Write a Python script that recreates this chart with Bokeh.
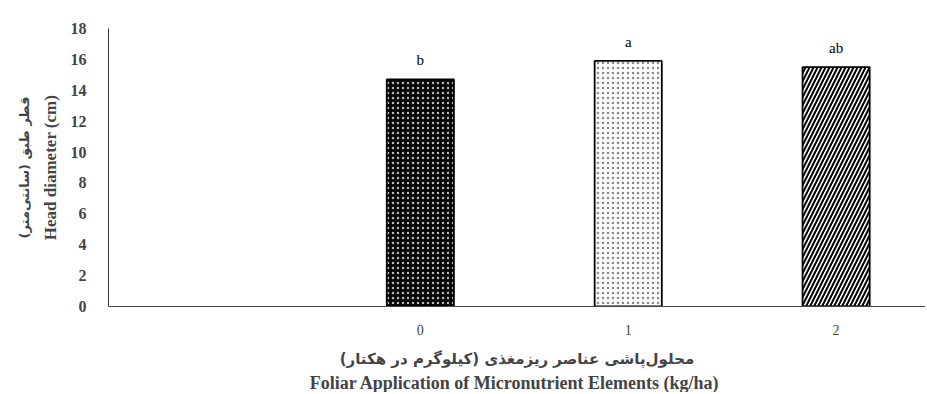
from bokeh.plotting import figure
from bokeh.models import ColumnDataSource, FixedTicker, Range1d, Title
from bokeh.core.properties import value
from bokeh.embed import file_html
from bokeh.resources import INLINE

# data
categories = ["0", "1", "2"]
values = [14.7, 15.9, 15.5]
letters = ["b", "a", "ab"]
fill_colors = ["black", "white", "white"]
hatch_patterns = ["dot", "dot", "right_diagonal_line"]
hatch_colors = ["#bbbbbb", "#888888", "black"]
hatch_scales = [5, 5, 8]
hatch_weights = [1, 1, 2]
y_ticks = list(range(0, 19, 2))

x_pos = [i + 1 for i in range(len(categories))]

SERIF = "'Liberation Serif', 'Times New Roman', serif"

src = ColumnDataSource(dict(x=x_pos, top=values, lab=letters, fill=fill_colors,
                            hp=hatch_patterns, hc=hatch_colors, hs=hatch_scales, hw=hatch_weights))

p = figure(width=925, height=392, output_backend="svg", toolbar_location=None,
           x_range=Range1d(-0.5, 3.43), y_range=Range1d(0, 18),
           min_border_left=108, min_border_right=0, min_border_top=28, min_border_bottom=85)
p.outline_line_color = None
p.grid.visible = False
p.background_fill_color = "white"

p.vbar(x="x", top="top", width=0.323, source=src, fill_color="fill",
       line_color="black", line_width=1.8,
       hatch_pattern="hp", hatch_color="hc", hatch_scale="hs", hatch_weight="hw")

p.text(x="x", y="top", text="lab", source=src, text_align="center", text_baseline="bottom",
       y_offset=-11, text_font_size="15px", text_font=value(SERIF), text_color="black")

# y axis
ya = p.yaxis[0]
ya.ticker = FixedTicker(ticks=y_ticks)
ya.major_tick_line_color = None
ya.minor_tick_line_color = None
ya.axis_line_color = "#333333"
ya.major_label_text_font = SERIF
ya.major_label_text_font_style = "bold"
ya.major_label_text_font_size = "16px"
ya.major_label_standoff = 16
ya.axis_label = "Head diameter (cm)"
ya.axis_label_text_font = SERIF
ya.axis_label_text_font_style = "bold"
ya.axis_label_text_font_size = "17px"
ya.axis_label_standoff = 8

# x axis
xa = p.xaxis[0]
xa.ticker = FixedTicker(ticks=x_pos)
xa.major_label_overrides = {x: c for x, c in zip(x_pos, categories)}
xa.major_tick_line_color = None
xa.minor_tick_line_color = None
xa.axis_line_color = "#444444"
xa.major_label_text_font = SERIF
xa.major_label_text_font_size = "14px"
xa.major_label_text_color = "#444444"
xa.major_label_standoff = 12
xa.axis_label = "محلول‌پاشی عناصر ریزمغذی (کیلوگرم در هکتار)"
xa.axis_label_text_font = "DejaVu Sans"
xa.axis_label_text_font_style = "bold"
xa.axis_label_text_font_size = "15px"
xa.axis_label_standoff = 12

p.add_layout(Title(text="Foliar Application  of Micronutrient Elements (kg/ha)", align="center",
                   text_font=SERIF, text_font_style="bold", text_font_size="18px",
                   standoff=0), "below")
p.add_layout(Title(text="قطر طبق (سانتی‌متر)", align="center",
                   text_font="DejaVu Sans", text_font_style="bold", text_font_size="13px",
                   standoff=12), "left")

open("out.html", "w").write(file_html(p, INLINE))
